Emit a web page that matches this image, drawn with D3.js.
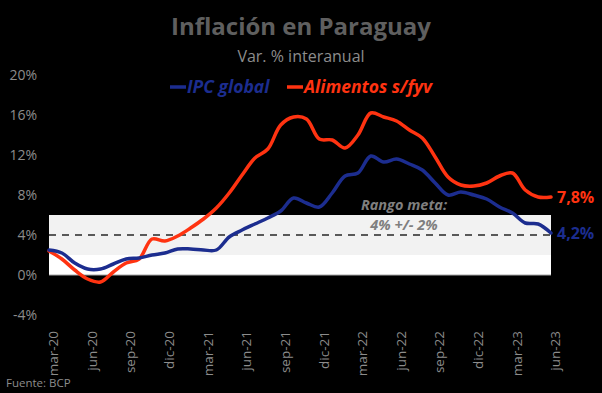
<!DOCTYPE html>
<html>
<head>
<meta charset="utf-8">
<script src="https://cdn.jsdelivr.net/npm/d3@7"></script>
<style>
  body { margin: 0; background: #000; }
  svg { display: block; font-family: "Open Sans", sans-serif; }
</style>
</head>
<body>
<svg id="chart" width="602" height="393"></svg>
<script>
// monthly data, mar-20 .. jun-23
const months = [
  "mar-20","abr-20","may-20","jun-20","jul-20","ago-20","sep-20","oct-20","nov-20","dic-20",
  "ene-21","feb-21","mar-21","abr-21","may-21","jun-21","jul-21","ago-21","sep-21","oct-21","nov-21","dic-21",
  "ene-22","feb-22","mar-22","abr-22","may-22","jun-22","jul-22","ago-22","sep-22","oct-22","nov-22","dic-22",
  "ene-23","feb-23","mar-23","abr-23","may-23","jun-23"
];
const ipcGlobal = [
  2.5, 2.2, 1.2, 0.6, 0.6, 1.1, 1.6, 1.7, 2.0, 2.2,
  2.6, 2.6, 2.5, 2.5, 3.8, 4.5, 5.1, 5.7, 6.4, 7.7, 7.2, 6.8,
  8.2, 9.9, 10.2, 11.9, 11.3, 11.6, 11.1, 10.5, 9.2, 8.0, 8.3, 8.0,
  7.6, 6.8, 6.2, 5.2, 5.1, 4.2
];
const alimentos = [
  2.4, 1.6, 0.5, -0.4, -0.7, 0.3, 1.2, 1.6, 3.6, 3.4,
  3.9, 4.7, 5.6, 6.7, 8.2, 10.0, 11.7, 12.6, 15.0, 15.8, 15.6, 13.6,
  13.5, 12.7, 14.0, 16.2, 15.8, 15.4, 14.5, 13.7, 11.8, 9.8, 9.0, 8.9,
  9.2, 9.9, 10.2, 8.5, 7.8, 7.8
];
const tickMonths = ["mar-20","jun-20","sep-20","dic-20","mar-21","jun-21","sep-21","dic-21",
                    "mar-22","jun-22","sep-22","dic-22","mar-23","jun-23"];
const yTicks = [-4, 0, 4, 8, 12, 16, 20];
const rangoMeta = [2, 6];
const meta = 4;

const blue = "#1c2d8f";
const red = "#ff3311";
const gray = "#8c8c8c";

const svg = d3.select("#chart");

const x = d3.scalePoint().domain(months).range([49, 551]);
const y = d3.scaleLinear().domain([-4, 20]).range([315, 75]);

// title
svg.append("text").attr("x", 301).attr("y", 35)
   .attr("text-anchor", "middle").attr("font-size", 24).attr("font-weight", "bold")
   .attr("fill", "#5f5f5f").text("Inflación en Paraguay");
svg.append("text").attr("x", 301).attr("y", 62)
   .attr("text-anchor", "middle").attr("font-size", 16)
   .attr("fill", gray).text("Var. % interanual");

// legend
const legend = [ {name: "IPC global", color: blue, x: 170}, {name: "Alimentos s/fyv", color: red, x: 287} ];
const lg = svg.selectAll("g.legend").data(legend).enter().append("g")
   .attr("class", "legend")
   .attr("transform", d => `translate(${d.x}, 87)`);
lg.append("line").attr("x1", 0).attr("x2", 16).attr("y1", 0).attr("y2", 0)
  .attr("stroke", d => d.color).attr("stroke-width", 3.5);
lg.append("text").attr("x", 17).attr("y", 6)
  .attr("font-size", 17.5).attr("font-weight", "bold").attr("font-style", "italic")
  .attr("fill", d => d.color).text(d => d.name);

// white box and target band
svg.append("rect").attr("x", 49).attr("width", 502)
   .attr("y", y(rangoMeta[1])).attr("height", y(0) - y(rangoMeta[1]))
   .attr("fill", "#ffffff");
svg.append("rect").attr("x", 49).attr("width", 502)
   .attr("y", y(rangoMeta[1])).attr("height", y(rangoMeta[0]) - y(rangoMeta[1]))
   .attr("fill", "#f2f2f2");
svg.append("line").attr("x1", 49).attr("x2", 551)
   .attr("y1", y(0)).attr("y2", y(0)).attr("stroke", "#a6a6a6").attr("stroke-width", 1);
svg.append("line").attr("x1", 49).attr("x2", 551)
   .attr("y1", y(meta)).attr("y2", y(meta))
   .attr("stroke", "#595959").attr("stroke-width", 2).attr("stroke-dasharray", "7,6");

svg.append("text").attr("x", 404).attr("y", 210)
   .attr("text-anchor", "middle").attr("font-size", 14.5).attr("font-weight", "bold")
   .attr("font-style", "italic").attr("fill", "#7f7f7f").text("Rango meta:");
svg.append("text").attr("x", 404).attr("y", 230)
   .attr("text-anchor", "middle").attr("font-size", 14.5).attr("font-weight", "bold")
   .attr("font-style", "italic").attr("fill", "#7f7f7f").text("4% +/- 2%");

// y axis
const yAxis = d3.axisLeft(y).tickValues(yTicks).tickSize(0).tickPadding(0)
   .tickFormat(d => d + "%");
svg.append("g").attr("transform", "translate(37, 0)").call(yAxis)
   .call(g => g.select(".domain").remove())
   .selectAll("text").attr("fill", gray).attr("font-size", 14)
   .attr("font-family", "Open Sans, sans-serif");

// x axis
const xAxis = d3.axisBottom(x).tickValues(tickMonths).tickSize(0).tickPadding(0);
svg.append("g").attr("transform", "translate(4, 331)").call(xAxis)
   .call(g => g.select(".domain").remove())
   .selectAll("text")
   .attr("fill", gray).attr("font-size", 13.5).attr("font-family", "Open Sans, sans-serif")
   .attr("text-anchor", "end").attr("dy", "0.35em")
   .attr("transform", "rotate(-90)").attr("x", 0).attr("y", 0);

// lines
const line = d3.line().x((d, i) => x(months[i])).y(d => y(d)).curve(d3.curveCatmullRom.alpha(0.5));
const series = [ {values: alimentos, color: red}, {values: ipcGlobal, color: blue} ];
svg.selectAll("path.serie").data(series).enter().append("path")
   .attr("class", "serie")
   .attr("d", d => line(d.values))
   .attr("fill", "none").attr("stroke", d => d.color)
   .attr("stroke-width", 3.5).attr("stroke-linejoin", "round").attr("stroke-linecap", "round");

// end labels
const last = months.length - 1;
svg.append("text").attr("x", 557).attr("y", y(alimentos[last]) + 6)
   .attr("font-size", 16).attr("font-weight", "bold").attr("fill", red)
   .text(String(alimentos[last]).replace(".", ",") + "%");
svg.append("text").attr("x", 557).attr("y", y(ipcGlobal[last]) + 6)
   .attr("font-size", 16).attr("font-weight", "bold").attr("fill", blue)
   .text(String(ipcGlobal[last]).replace(".", ",") + "%");

svg.append("text").attr("x", 6).attr("y", 387)
   .attr("font-size", 11.5).attr("fill", gray).text("Fuente: BCP");
</script>
</body>
</html>
